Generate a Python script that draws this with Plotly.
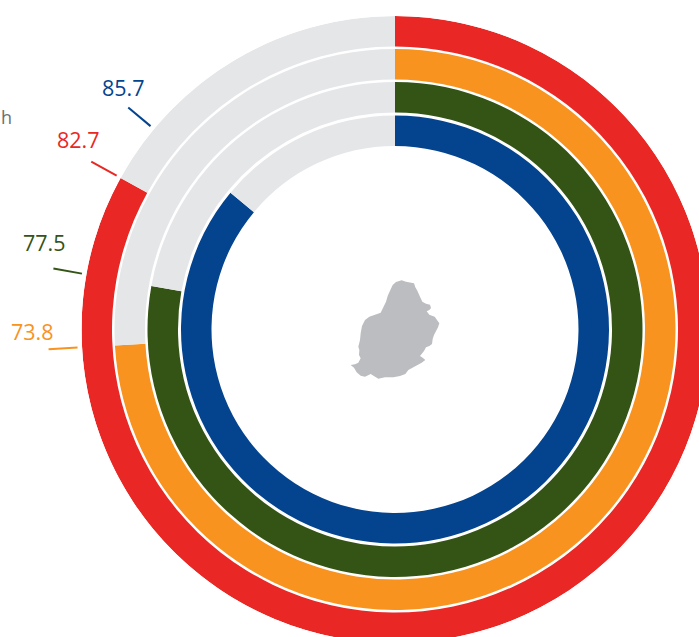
import math
import plotly.graph_objects as go

# Data
series = ["Blue", "Red", "Green", "Orange"]
values = [85.7, 82.7, 77.5, 73.8]
colors = ["#04448F", "#E92825", "#345415", "#F8931F"]
ring_outer = [214, 313.5, 247.5, 280.5]
ring_thickness = 30.5
track_color = "#E5E6E8"
island_color = "#BCBDC1"
FULL_SCALE = 99.6

label_px_x = [124, 78, 44, 32]
label_px_y = [87, 139, 243, 331]

island_x = [150,158,168,185,198,210,222,226,232,240,247,258,270,273,268,260,268,284,290,298,294,288,282,278,276,268,258,252,245,240,248,256,245,228,214,205,196,180,160,135,115,100,92,75,62,50,42,32,45,55,62,57,58,55,60,62,66,75,88,105,122,130,138,143,150]
island_y = [62,45,36,31,35,38,40,52,62,80,95,101,104,114,120,124,134,140,150,160,172,182,195,207,222,228,232,243,250,258,263,270,278,288,296,300,312,318,322,322,326,318,312,320,317,307,293,285,283,278,265,255,240,230,210,190,168,150,140,134,128,112,95,78,62]

W, H = 710, 644
CX, CY, R = 395, 329.5, 313.5
LEADER_R = (318, 347)

fig = go.Figure()

# island and leaders on a hidden pixel-scaled cartesian layer (under the transparent polar plot)
fig.add_trace(go.Scatter(
    x=[340 + a / 3 for a in island_x], y=[270 + b / 3 for b in island_y],
    mode="lines", fill="toself", fillcolor=island_color, line=dict(width=0),
    hoverinfo="skip", showlegend=False))

for v, c, ro in zip(values, colors, ring_outer):
    deg = v / FULL_SCALE * 360
    base = ro - ring_thickness
    fig.add_trace(go.Barpolar(
        r=[ring_thickness, ring_thickness], base=[base, base],
        theta=[deg / 2, deg + (360 - deg) / 2], width=[deg, 360 - deg],
        marker=dict(color=[c, track_color], line=dict(width=0)),
        hoverinfo="skip", showlegend=False))
    s, k = math.sin(math.radians(deg)), math.cos(math.radians(deg))
    fig.add_trace(go.Scatter(
        x=[CX + rr * s for rr in LEADER_R], y=[CY - rr * k for rr in LEADER_R],
        mode="lines", line=dict(color=c, width=2),
        hoverinfo="skip", showlegend=False))

annotations = [dict(x=lx / W, y=1 - ly / H, xref="paper", yref="paper", text=f"{v}",
                    showarrow=False, xanchor="center", yanchor="middle",
                    font=dict(color=c, size=21.5, family="Open Sans"))
               for lx, ly, v, c in zip(label_px_x, label_px_y, values, colors)]
annotations.append(dict(x=0, y=1 - 117 / H, xref="paper", yref="paper", text="h",
                        showarrow=False, xanchor="left", yanchor="middle", borderpad=0,
                        font=dict(color="#6D6E71", size=18, family="Open Sans")))

fig.update_layout(
    width=W, height=H, margin=dict(l=0, r=0, t=0, b=0, pad=0),
    paper_bgcolor="white", plot_bgcolor="rgba(0,0,0,0)",
    polar=dict(
        domain=dict(x=[(CX - R) / W, (CX + R) / W], y=[1 - (CY + R) / H, 1 - (CY - R) / H]),
        bgcolor="rgba(0,0,0,0)", bargap=0,
        radialaxis=dict(range=[0, R], visible=False),
        angularaxis=dict(direction="clockwise", rotation=90, visible=False),
    ),
    xaxis=dict(domain=[0, 1], range=[0, W], visible=False, fixedrange=True),
    yaxis=dict(domain=[0, 1], range=[H, 0], visible=False, fixedrange=True),
    annotations=annotations,
)

fig.write_html("out.html", config=dict(displayModeBar=False, responsive=False),
               post_script="document.documentElement.style.overflow='hidden';document.body.style.overflow='hidden';document.body.style.margin='0';")
